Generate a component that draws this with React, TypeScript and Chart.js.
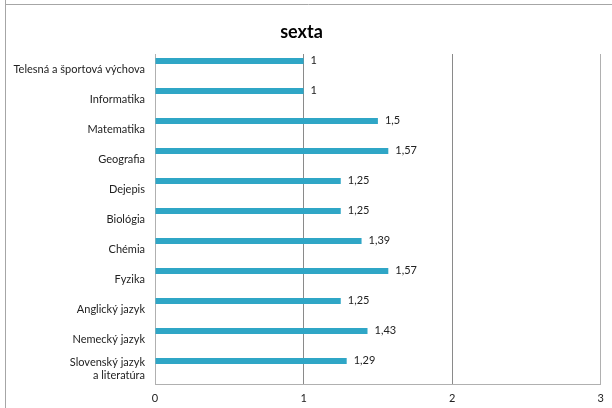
import React, { useEffect, useRef } from "react";
import { Chart, registerables } from "chart.js";

Chart.register(...registerables);

const title = "sexta";
const categories: (string | string[])[] = [
  "Telesná a športová výchova",
  "Informatika",
  "Matematika",
  "Geografia",
  "Dejepis",
  "Biológia",
  "Chémia",
  "Fyzika",
  "Anglický jazyk",
  "Nemecký jazyk",
  ["Slovenský jazyk", "a literatúra"],
];
const values = [1, 1, 1.5, 1.57, 1.25, 1.25, 1.39, 1.57, 1.25, 1.43, 1.29];
const xMin = 0;
const xMax = 3;
const xStep = 1;

const FONT = "Lato, 'Open Sans', sans-serif";

const valueLabels = {
  id: "valueLabels",
  afterDatasetsDraw(chart: any) {
    const ctx = chart.ctx;
    const meta = chart.getDatasetMeta(0);
    ctx.save();
    ctx.font = `11px ${FONT}`;
    ctx.fillStyle = "#222";
    ctx.textAlign = "left";
    ctx.textBaseline = "middle";
    meta.data.forEach((el: any, i: number) => {
      const v = values[i];
      ctx.fillText(String(v).replace(".", ","), el.x + 7, el.y - 1);
    });
    ctx.restore();
  },
};

const frame = {
  id: "frame",
  beforeDraw(chart: any) {
    const ctx = chart.ctx;
    ctx.save();
    ctx.strokeStyle = "#a6a6a6";
    ctx.lineWidth = 1;
    ctx.beginPath();
    ctx.moveTo(5.5, 0);
    ctx.lineTo(5.5, chart.height);
    ctx.moveTo(5, 4.5);
    ctx.lineTo(chart.width, 4.5);
    ctx.stroke();
    ctx.restore();
  },
};

export default function App() {
  const ref = useRef<HTMLCanvasElement | null>(null);
  useEffect(() => {
    document.body.style.margin = "0";
    if (!ref.current) return;
    const chart = new Chart(ref.current, {
      type: "bar",
      data: {
        labels: categories as any,
        datasets: [
          {
            label: "sexta",
            data: values,
            backgroundColor: "#2FA6C6",
            borderWidth: 0,
            categoryPercentage: 1.06,
            barPercentage: 0.37,
          },
          {
            label: "",
            data: values.map(() => null),
            backgroundColor: "transparent",
            categoryPercentage: 1.06,
            barPercentage: 0.37,
          },
        ],
      },
      options: {
        indexAxis: "y",
        animation: false,
        responsive: false,
        layout: { padding: { left: 0, right: 9, top: 0, bottom: 0 } },
        plugins: {
          legend: { display: false },
          tooltip: { enabled: false },
          title: {
            display: true,
            text: title,
            color: "#000",
            font: { family: FONT, size: 18, weight: "bold" },
            padding: { top: 21, bottom: 11.4 },
          },
        },
        scales: {
          x: {
            min: xMin,
            max: xMax,
            ticks: {
              stepSize: xStep,
              color: "#222",
              font: { family: FONT, size: 11 },
              padding: 8,
              maxRotation: 0,
            },
            grid: {
              drawTicks: false,
              color: (c: any) =>
                c.tick && c.tick.value === 0
                  ? "rgba(0,0,0,0)"
                  : c.tick && c.tick.value === xMax
                  ? "#b0b0b0"
                  : "#8a8a8a",
            },
            border: { display: true, color: "#b0b0b0" },
            afterFit(scale: any) {
              scale.height = 24;
            },
          },
          y: {
            ticks: {
              color: "#222",
              font: { family: FONT, size: 11 },
              padding: 10,
            },
            grid: { display: false, drawTicks: false },
            border: { display: true, color: "#b0b0b0" },
            afterFit(scale: any) {
              scale.width = 155;
            },
          },
        },
      },
      plugins: [valueLabels, frame],
    });
    return () => chart.destroy();
  }, []);
  return (
    <div style={{ width: 612, height: 408, background: "#fff" }}>
      <canvas ref={ref} width={612} height={408} />
    </div>
  );
}
